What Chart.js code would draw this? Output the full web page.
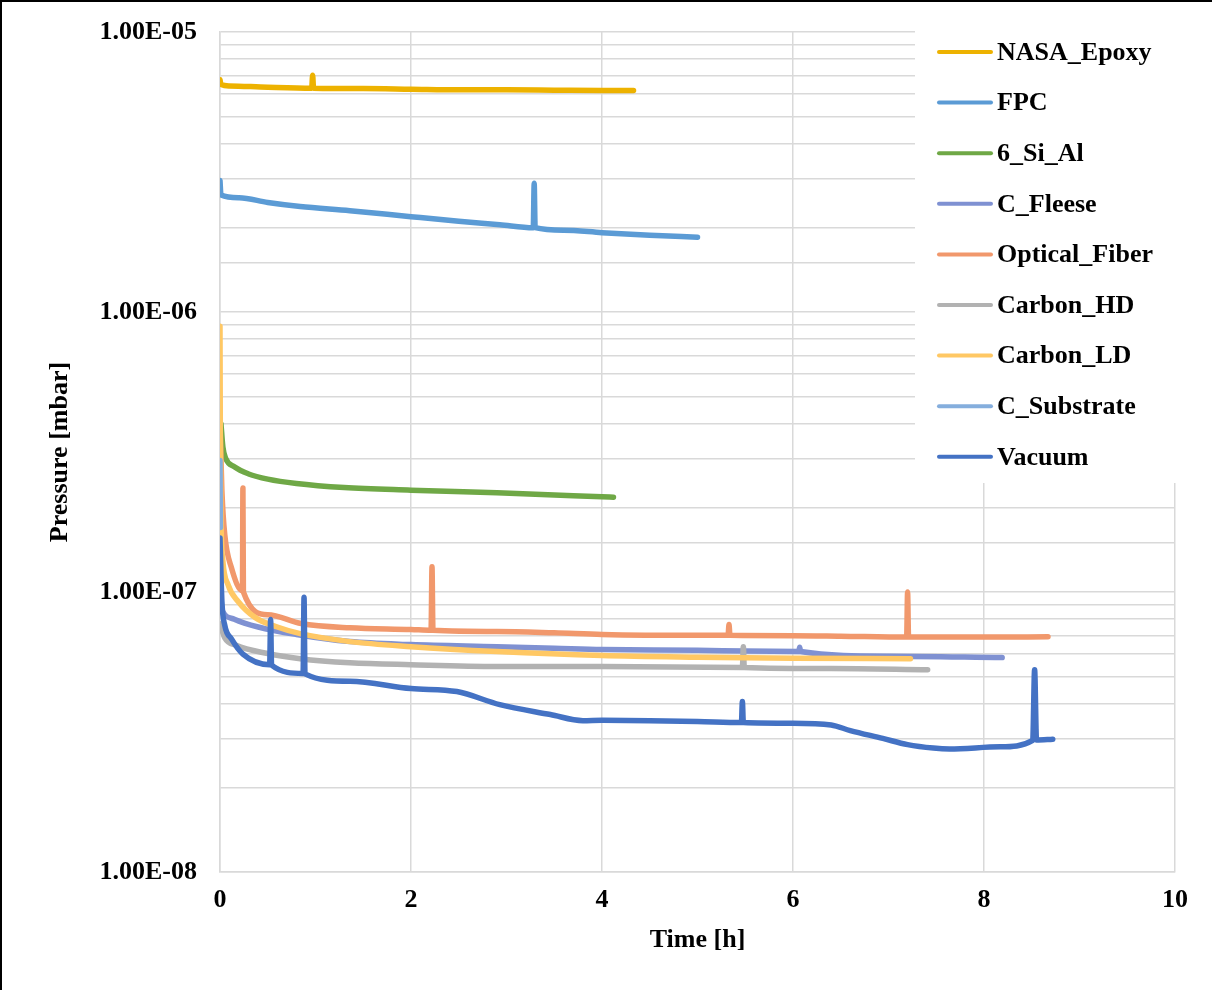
<!DOCTYPE html>
<html><head><meta charset="utf-8">
<script src="https://cdn.jsdelivr.net/npm/chart.js@4.4.1/dist/chart.umd.min.js"></script>
<style>html,body{margin:0;padding:0;background:#fff}#wrap{width:1212px;height:990px;position:relative}</style>
</head><body><div id="wrap"><canvas id="c" width="1212" height="990"></canvas></div>
<script>
// ---- data: [time h, pressure mbar] ----
const seriesNames = ['NASA_Epoxy','FPC','6_Si_Al','C_Fleese','Optical_Fiber','Carbon_HD','Carbon_LD','C_Substrate','Vacuum'];
const seriesColors = ['#EDB200','#5B9BD5','#6FA846','#7F91D2','#F1986C','#B2B2B2','#FFC864','#85AEDD','#4472C4'];
const xTickValues = [0,2,4,6,8,10];
const yTickValues = [1e-8,1e-7,1e-6,1e-5];
const yTickLabels = ['1.00E-08','1.00E-07','1.00E-06','1.00E-05'];

const nasaEpoxy = [[0,6.75e-6],[0.01,6.5e-6],[0.1,6.42e-6],[0.5,6.35e-6],[0.96,6.3e-6],[0.97,7.0e-6],[0.98,6.3e-6],[1.5,6.28e-6],[2,6.25e-6],[2.5,6.22e-6],[3,6.22e-6],[3.5,6.2e-6],[4,6.18e-6],[4.33,6.18e-6]];
const fpc = [[0,2.95e-6],[0.01,2.62e-6],[0.2,2.56e-6],[0.5,2.46e-6],[0.84,2.38e-6],[1.36,2.3e-6],[2,2.19e-6],[2.5,2.11e-6],[2.93,2.05e-6],[3.28,2.0e-6],[3.29,2.88e-6],[3.30,2.0e-6],[3.6,1.96e-6],[4,1.92e-6],[4.5,1.88e-6],[5,1.85e-6]];
const siAl = [[0.01,4.0e-7],[0.03,3.3e-7],[0.06,3.0e-7],[0.15,2.8e-7],[0.3,2.64e-7],[0.5,2.53e-7],[0.8,2.44e-7],[1.3,2.36e-7],[2,2.31e-7],[2.9,2.26e-7],[3.5,2.22e-7],[4,2.19e-7],[4.12,2.18e-7]];
const cFleese = [[0,9.2e-8],[0.03,8.5e-8],[0.15,8.0e-8],[0.4,7.5e-8],[0.8,7.05e-8],[1.36,6.65e-8],[2,6.49e-8],[2.9,6.38e-8],[3.5,6.3e-8],[4,6.23e-8],[5,6.2e-8],[5.5,6.15e-8],[6.06,6.13e-8],[6.07,6.35e-8],[6.08,6.13e-8],[7,5.9e-8],[8.19,5.83e-8]];
const opticalFiber = [[0,4.0e-7],[0.02,2.3e-7],[0.05,1.6e-7],[0.12,1.22e-7],[0.235,1.01e-7],[0.24,2.35e-7],[0.245,1.0e-7],[0.5,8.3e-8],[0.85,7.72e-8],[1.36,7.45e-8],[2.0,7.35e-8],[2.21,7.3e-8],[2.22,1.23e-7],[2.23,7.3e-8],[2.9,7.23e-8],[3.5,7.15e-8],[4,7.05e-8],[5,7.0e-8],[5.32,7.0e-8],[5.33,7.65e-8],[5.34,7.0e-8],[6,6.98e-8],[6.5,6.95e-8],[7.19,6.9e-8],[7.2,1.0e-7],[7.21,6.9e-8],[8,6.9e-8],[8.67,6.92e-8]];
const carbonHD = [[0,7.7e-8],[0.05,6.85e-8],[0.17,6.45e-8],[0.5,6.03e-8],[0.84,5.78e-8],[1.36,5.59e-8],[2,5.5e-8],[2.9,5.42e-8],[4,5.42e-8],[5.47,5.38e-8],[5.48,6.38e-8],[5.49,5.38e-8],[6.4,5.33e-8],[7.41,5.28e-8]];
const carbonLD = [[0,8.9e-7],[0.003,4.0e-7],[0.006,2.5e-7],[0.012,1.7e-7],[0.03,1.29e-7],[0.085,1.06e-7],[0.19,9.25e-8],[0.37,8.1e-8],[0.6,7.5e-8],[0.84,7.1e-8],[1.36,6.65e-8],[2,6.38e-8],[2.9,6.13e-8],[4,5.93e-8],[5,5.85e-8],[6,5.8e-8],[7.23,5.78e-8]];
const cSubstrate = [[0,2.95e-7],[0.002,2.2e-7],[0.004,1.7e-7]];
const vacuum = [[0,1.56e-7],[0.02,9.25e-8],[0.05,7.6e-8],[0.12,6.8e-8],[0.24,6.0e-8],[0.52,5.5e-8],[0.53,7.98e-8],[0.54,5.48e-8],[0.87,5.12e-8],[0.88,9.57e-8],[0.89,5.1e-8],[1.36,4.8e-8],[2.0,4.52e-8],[2.48,4.41e-8],[2.93,3.96e-8],[3.46,3.65e-8],[3.8,3.47e-8],[4,3.48e-8],[4.5,3.47e-8],[5,3.45e-8],[5.46,3.42e-8],[5.47,4.06e-8],[5.48,3.42e-8],[6,3.4e-8],[6.4,3.35e-8],[6.6,3.2e-8],[6.94,3.0e-8],[7.2,2.85e-8],[7.47,2.77e-8],[7.64,2.75e-8],[8.17,2.8e-8],[8.51,2.95e-8],[8.53,5.28e-8],[8.55,2.96e-8],[8.72,2.98e-8]];

const seriesData = [nasaEpoxy,fpc,siAl,cFleese,opticalFiber,carbonHD,carbonLD,cSubstrate,vacuum];

Chart.defaults.font.family = '"Liberation Serif","Times New Roman",serif';
Chart.defaults.font.weight = 'bold';
Chart.defaults.color = '#000';

const FONT = 'bold 26px "Liberation Serif"';
const legendPlugin = {
  id:'customLegend',
  beforeDatasetsDraw(chart){
    const c = chart.ctx; c.save(); c.fillStyle='#fff'; c.fillRect(915,29,275,454); c.restore();
  },
  afterDraw(chart){
    const c = chart.ctx; c.save();
    c.font = FONT; c.textBaseline='middle'; c.textAlign='left';
    seriesNames.forEach((n,i)=>{
      const y = 52 + i*50.6;
      c.strokeStyle = seriesColors[i]; c.lineWidth = 4; c.lineCap='round';
      c.beginPath(); c.moveTo(939,y); c.lineTo(991,y); c.stroke();
      c.fillStyle='#000'; c.fillText(n, 997, y+1);
    });
    c.fillStyle='#000'; c.fillRect(0,0,1212,2); c.fillRect(0,0,2,990);
    c.restore();
  }
};

const gridColor = '#d9d9d9';
new Chart(document.getElementById('c'), {
  type:'line',
  data:{datasets: seriesNames.map((n,i)=>({
    label:n, data: seriesData[i].map(([x,y])=>({x,y})),
    borderColor: seriesColors[i], backgroundColor: seriesColors[i], borderWidth:5.5, pointRadius:0,
    fill:false, order: seriesNames.length-1-i, cubicInterpolationMode:'monotone',
    borderCapStyle:'round', borderJoinStyle:'round'
  }))},
  options:{
    responsive:false, animation:false, devicePixelRatio:1,
    layout:{padding:{top:32,right:37,left:0,bottom:0}},
    plugins:{legend:{display:false}, tooltip:{enabled:false}},
    scales:{
      x:{type:'linear', min:0, max:10,
        afterBuildTicks: s=>{ s.ticks = xTickValues.map(v=>({value:v})); },
        ticks:{padding:13, maxRotation:0, autoSkip:false, font:{size:26,weight:'bold'}, color:'#000'},
        grid:{color:gridColor, lineWidth:1.5, drawTicks:false},
        border:{display:true, color:gridColor, width:1.5},
        title:{display:true, text:'Time [h]', color:'#000', font:{size:26,weight:'bold'}, padding:{top:0,bottom:34}},
        afterFit: s=>{ s.height = 118; s.paddingLeft = 0; s.paddingRight = 0; }
      },
      y:{type:'logarithmic', min:1e-8, max:1e-5,
        ticks:{autoSkip:false, padding:23, font:{size:26,weight:'bold'}, color:'#000',
          callback:(v)=>{ const i = yTickValues.findIndex(t=>Math.abs(t-v)/t<1e-6); return i>=0 ? yTickLabels[i] : ''; }},
        grid:{color:gridColor, lineWidth:1.5, drawTicks:false},
        border:{display:true, color:gridColor, width:1.5},
        title:{display:true, text:'Pressure [mbar]', color:'#000', font:{size:26,weight:'bold'}, padding:{top:45,bottom:0}},
        afterFit: s=>{ s.width = 220; s.paddingTop = 0; s.paddingBottom = 0; }
      }
    }
  },
  plugins:[legendPlugin]
});
</script></body></html>
